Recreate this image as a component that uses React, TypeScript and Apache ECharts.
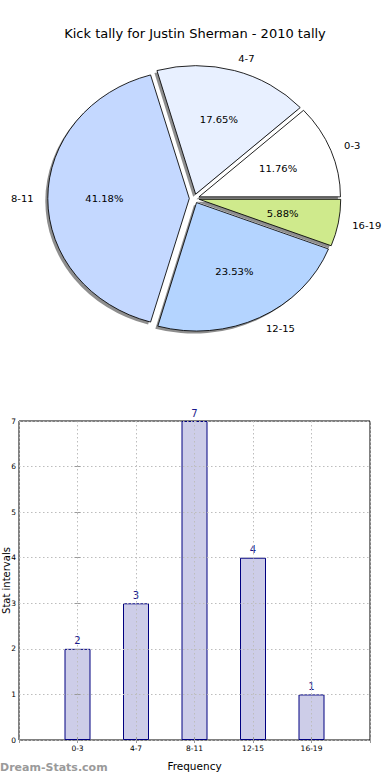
import React, { useEffect, useRef } from "react";
import * as echarts from "echarts";

const title = "Kick tally for Justin Sherman - 2010 tally";
const categories = ["0-3", "4-7", "8-11", "12-15", "16-19"];
const tally = [2, 3, 7, 4, 1];
const sliceColors = ["#ffffff", "#e8f0ff", "#c4d8ff", "#b4d4ff", "#cfea8c"];
const yTicks = [0, 1, 2, 3, 4, 5, 6, 7];

const FONT = "DejaVu Sans, Verdana, sans-serif";
const SY = 0.908; // vertical squash of the pie (elliptical pie)

export default function App() {
  const mainRef = useRef<HTMLDivElement>(null);
  const pieRef = useRef<HTMLDivElement>(null);

  useEffect(() => {
    const main = echarts.init(mainRef.current!, undefined, { renderer: "svg" });
    const pie = echarts.init(pieRef.current!, undefined, { renderer: "svg" });

    main.setOption({
      animation: false,
      title: {
        text: title,
        left: "center",
        top: 22,
        textStyle: { fontFamily: FONT, fontSize: 13, fontWeight: "normal", color: "#000" },
      },
      grid: {
        left: 19,
        right: 20,
        top: 421,
        bottom: 40,
        outerBoundsMode: "none",
        containLabel: false,
        show: true,
        borderColor: "#000",
        borderWidth: 1,
        backgroundColor: "transparent",
      },
      xAxis: [
        {
          type: "value",
          min: -1,
          max: 5,
          interval: 1,
          z: 3,
          name: "Frequency",
          nameLocation: "middle",
          nameGap: 20,
          nameMoveOverlap: false,
          nameTextStyle: { fontFamily: FONT, fontSize: 10.5, color: "#000" },
          axisLine: { show: false },
          axisTick: { show: true, inside: true, length: 3, lineStyle: { color: "#999" } },
          axisLabel: {
            fontFamily: FONT,
            fontSize: 7.5,
            color: "#000",
            margin: 4,
            formatter: (v: number) => categories[v] ?? "",
          },
          splitLine: { show: true, lineStyle: { color: "#bdbdbd", type: [1.5, 2.5], width: 1 } },
        },
        {
          type: "value",
          position: "top",
          min: -1,
          max: 5,
          interval: 1,
          z: 3,
          axisLine: { show: false },
          axisTick: { show: true, inside: true, length: 3, lineStyle: { color: "#999" } },
          axisLabel: { show: false },
          splitLine: { show: false },
        },
      ],
      yAxis: [
        {
          type: "value",
          min: 0,
          max: 7,
          interval: 1,
          z: 3,
          name: "Stat intervals",
          nameLocation: "middle",
          nameGap: 7.5,
          nameMoveOverlap: false,
          nameTextStyle: { fontFamily: FONT, fontSize: 10, lineHeight: 11, color: "#000" },
          axisLine: { show: false },
          axisTick: { show: true, inside: true, length: 3, lineStyle: { color: "#999" } },
          axisLabel: { fontFamily: FONT, fontSize: 7.5, color: "#000", margin: 3, formatter: (v: number) => (yTicks.includes(v) ? String(v) : "") },
          splitLine: { show: true, lineStyle: { color: "#bdbdbd", type: [1.5, 2.5], width: 1 } },
        },
        {
          type: "value",
          position: "right",
          min: 0,
          max: 7,
          interval: 1,
          z: 3,
          axisLine: { show: false },
          axisTick: { show: true, inside: true, length: 3, lineStyle: { color: "#999" } },
          axisLabel: { show: false },
          splitLine: { show: false },
        },
      ],
      series: [
        {
          type: "bar",
          xAxisIndex: 0,
          yAxisIndex: 0,
          barWidth: 26,
          data: tally.map((v, i) => [i, v]),
          itemStyle: { color: "#cdcde8", borderColor: "#000080", borderWidth: 1 },
          label: {
            show: true,
            position: "top",
            distance: 3,
            fontFamily: FONT,
            fontSize: 10,
            color: "#1a1a8c",
            formatter: (p: any) => String(p.value[1]),
          },
        },
      ],
      graphic: [
        {
          type: "text",
          left: 0,
          top: 762,
          style: { text: "Dream-Stats.com", font: `bold 11px ${FONT}`, fill: "#9a9a9a" },
        },
      ],
    });

    const cx = 194.3;
    const cy = 198.5 / SY;
    const r = 141.5;

    const common = {
      type: "pie",
      radius: [0, r],
      startAngle: 0,
      clockwise: false,
      selectedMode: "multiple",
      selectedOffset: 5,
      avoidLabelOverlap: false,
      silent: true,
    };

    pie.setOption({
      animation: false,
      series: [
        {
          ...common,
          z: 1,
          center: [cx - 2.5, cy + 2.5 / SY],
          data: categories.map((c, i) => ({ name: c, value: tally[i], selected: true })),
          itemStyle: { color: "#8e8e8e", borderWidth: 0 },
          select: { itemStyle: { color: "#8e8e8e", borderWidth: 0 } },
          label: { show: false },
          labelLine: { show: false },
        },
        {
          ...common,
          z: 2,
          center: [cx, cy],
          data: categories.map((c, i) => ({
            name: c,
            value: tally[i],
            selected: true,
            itemStyle: { color: sliceColors[i] },
          })),
          itemStyle: { borderColor: "#000", borderWidth: 0.9 },
          select: { itemStyle: { borderColor: "#000", borderWidth: 0.9 } },
          label: {
            show: true,
            position: "outside",
            fontFamily: FONT,
            fontSize: 10,
            color: "#000",
            distanceToLabelLine: 0,
            formatter: "{b}",
          },
          labelLine: { show: false, length: 0.1 * r, length2: 0 },
        },
        {
          ...common,
          z: 5,
          center: [cx, cy],
          radius: [0, 2 * (0.6 * r - 3)],
          data: categories.map((c, i) => ({ name: c, value: tally[i], selected: true })),
          itemStyle: { color: "rgba(0,0,0,0)", borderWidth: 0 },
          select: { itemStyle: { color: "rgba(0,0,0,0)", borderWidth: 0 } },
          label: {
            show: true,
            position: "inside",
            fontFamily: FONT,
            fontSize: 10,
            color: "#000",
            formatter: (p: any) => p.percent.toFixed(2) + "%",
          },
          labelLine: { show: false },
        },
      ],
    });

    return () => {
      main.dispose();
      pie.dispose();
    };
  }, []);

  return (
    <div style={{ position: "fixed", left: 0, top: 0, width: 390, height: 780, background: "#fff" }}>
      <div ref={mainRef} style={{ position: "absolute", left: 0, top: 0, width: 390, height: 780 }} />
      <div
        ref={pieRef}
        style={{
          position: "absolute",
          left: 0,
          top: 0,
          width: 390,
          height: 400,
          transform: `scaleY(${SY})`,
          transformOrigin: "0 0",
          pointerEvents: "none",
        }}
      />
    </div>
  );
}
